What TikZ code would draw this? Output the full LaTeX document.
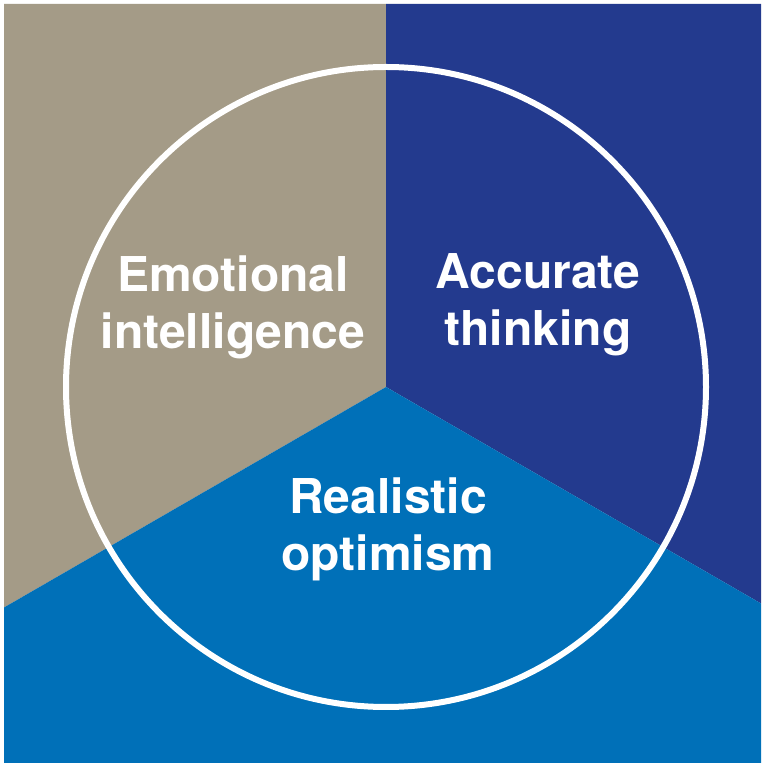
\documentclass[tikz,border=0pt]{standalone}
\usepackage{fontspec}
\setsansfont{TeX Gyre Heros}
\usepackage{xcolor}
\usepackage{tikz}
\usetikzlibrary{positioning}

\definecolor{stonegray}{HTML}{A49B87}
\definecolor{deepnavy}{HTML}{233A8E}
\definecolor{brightblue}{HTML}{0070B8}

\begin{document}
\begin{tikzpicture}[
    x=1pt, y=1pt,
    sector/.style={draw=none},
    ring/.style={draw=white, line width=6pt},
    blocktext/.style={text=white, align=center, inner sep=0pt, font=\sffamily\bfseries\fontsize{48}{57}\selectfont}
]

% canvas
\fill[white] (0,0) rectangle (761,763);
\useasboundingbox (0,0) rectangle (761,763);

% corner points of the three sectors
\coordinate (centre) at (386,376);
\coordinate (topleft) at (4,759);
\coordinate (topmid) at (386,759);
\coordinate (topright) at (761,759);
\coordinate (leftcut) at (4,155.5);
\coordinate (rightcut) at (761,159.5);
\coordinate (botleft) at (4,0);
\coordinate (botright) at (761,0);

% Sector 1 - Emotional intelligence
\fill[sector, stonegray] (topleft) -- (topmid) -- (centre) -- (leftcut) -- cycle;
% Sector 2 - Accurate thinking
\fill[sector, deepnavy] (topmid) -- (topright) -- (rightcut) -- (centre) -- cycle;
% Sector 3 - Realistic optimism
\fill[sector, brightblue] (leftcut) -- (centre) -- (rightcut) -- (botright) -- (botleft) -- cycle;

% circle
\draw[ring] (centre) circle (320);

% labels
\node[blocktext] (emotional) at (233,456) {Emotional\\intelligence};
\node[blocktext] (accurate) at (538,458) {Accurate\\thinking};
\node[blocktext] (realistic) at (388,234) {Realistic\\optimism};

\end{tikzpicture}
\end{document}
